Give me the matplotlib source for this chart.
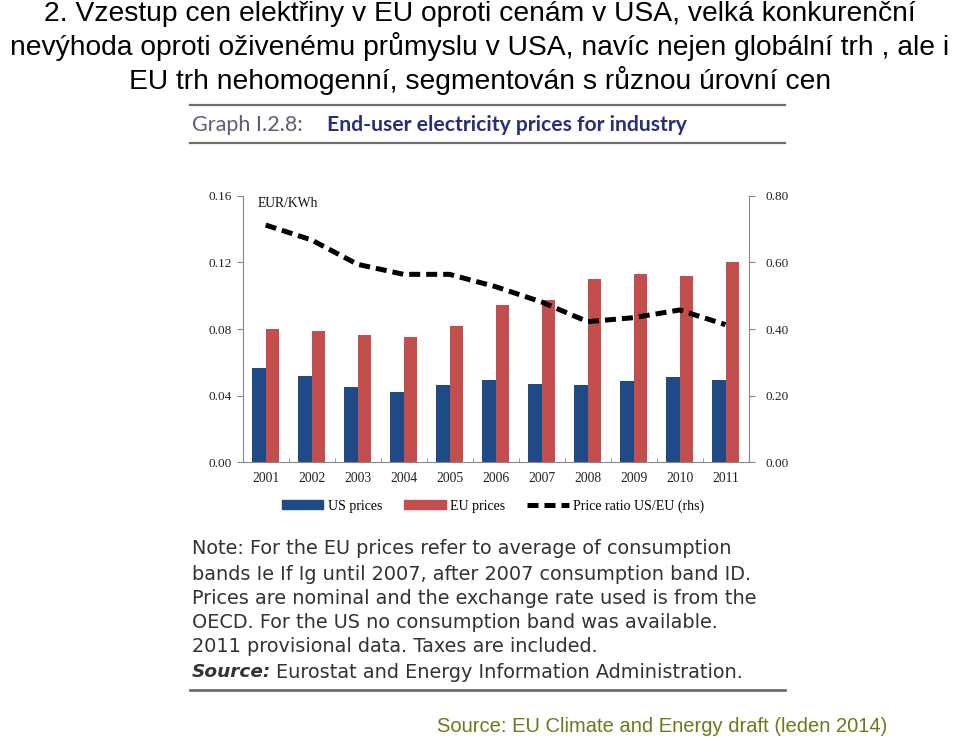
import matplotlib
matplotlib.use("Agg")
import matplotlib.pyplot as plt
import numpy as np
from matplotlib.lines import Line2D
from matplotlib.patches import Patch

years = ["2001", "2002", "2003", "2004", "2005", "2006", "2007", "2008", "2009", "2010", "2011"]
us_prices = [0.0568, 0.0518, 0.0454, 0.0424, 0.0462, 0.0492, 0.0470, 0.0462, 0.0490, 0.0514, 0.0494]
eu_prices = [0.0800, 0.0790, 0.0762, 0.0750, 0.0820, 0.0942, 0.0974, 0.1100, 0.1130, 0.1120, 0.1202]
ratio = [0.712, 0.667, 0.594, 0.564, 0.564, 0.527, 0.481, 0.422, 0.434, 0.457, 0.413]
left_ticks = [0.00, 0.04, 0.08, 0.12, 0.16]
right_ticks = [0.00, 0.20, 0.40, 0.60, 0.80]

title_lines = [
    "2. Vzestup cen elektřiny v EU oproti cenám v USA, velká konkurenční",
    "nevýhoda oproti oživenému průmyslu v USA, navíc nejen globální trh , ale i",
    "EU trh nehomogenní, segmentován s různou úrovní cen",
]
note_lines = [
    "Note: For the EU prices refer to average of consumption",
    "bands Ie If Ig until 2007, after 2007 consumption band ID.",
    "Prices are nominal and the exchange rate used is from the",
    "OECD. For the US no consumption band was available.",
    "2011 provisional data. Taxes are included.",
]

US_COL = "#1f4a86"
EU_COL = "#c44e4e"
SERIF = "Liberation Serif"
DASH = (0, (2.2, 1.2))

fig = plt.figure(figsize=(9.6, 7.38), dpi=100)
W, H = 960, 738

def fy(py):
    return 1 - py / H

# Title
title_base = [21, 55, 89]
for t, yy in zip(title_lines, title_base):
    fig.text(0.5, fy(yy), t, ha="center", va="baseline", fontsize=20.3,
             family="Liberation Sans", color="black")

# Header box lines
for yy, lw in [(105, 1.6), (143, 1.6), (690, 2.0)]:
    fig.add_artist(Line2D([190 / W, 785 / W], [fy(yy), fy(yy)], color="#6e6e6e", lw=lw))
fig.text(192 / W, fy(125), "Graph I.2.8:", ha="left", va="center", fontsize=15.5,
         family="Lato", color="#5a5f7a")
fig.text(327 / W, fy(125), "End-user electricity prices for industry", ha="left", va="center",
         fontsize=15.2, family="Lato", weight="bold", color="#2b2f7a")

# Chart
ax = fig.add_axes([242.7 / W, 1 - 462.3 / H, (748.5 - 242.7) / W, (462.3 - 195.7) / H])
x = np.arange(len(years))
bw = 0.29
ax.bar(x - bw / 2, us_prices, bw, color=US_COL, label="US prices")
ax.bar(x + bw / 2, eu_prices, bw, color=EU_COL, label="EU prices")
ax.set_xlim(-0.5, len(years) - 0.5)
ax.set_ylim(0, 0.16)
ax.set_yticks(left_ticks)
ax.set_yticklabels([f"{v:.2f}" for v in left_ticks], family=SERIF, fontsize=9.5, color="#222222")
ax.set_xticks(x)
ax.set_xticklabels(years, family=SERIF, fontsize=9.8, color="#222222")
ax.tick_params(axis="x", length=0, pad=7)
ax.set_xticks(np.arange(-0.5, len(years) + 0.5, 1.0), minor=True)
ax.tick_params(axis="x", which="minor", direction="in", length=3, color="#888888")
ax.tick_params(axis="y", length=4, color="#888888", pad=4)
for s in ["top", "right"]:
    ax.spines[s].set_visible(False)
for s in ["left", "bottom"]:
    ax.spines[s].set_color("#888888")
    ax.spines[s].set_linewidth(0.8)
ax.text(0.03, 0.995, "EUR/KWh", transform=ax.transAxes, ha="left", va="top",
        family=SERIF, fontsize=9.8, color="#111111")

ax2 = ax.twinx()
ax2.plot(x, ratio, color="black", lw=3.6, linestyle=DASH, label="Price ratio US/EU (rhs)")
ax2.set_ylim(0, 0.80)
ax2.set_yticks(right_ticks)
ax2.set_yticklabels([f"{v:.2f}" for v in right_ticks], family=SERIF, fontsize=9.5, color="#222222")
ax2.tick_params(axis="y", length=4, color="#888888", pad=8)
for s in ["top", "left", "bottom"]:
    ax2.spines[s].set_visible(False)
ax2.spines["right"].set_color("#888888")
ax2.spines["right"].set_linewidth(0.8)

handles = [Patch(color=US_COL), Patch(color=EU_COL),
           Line2D([], [], color="black", lw=3.6, linestyle=DASH)]
labels = ["US prices", "EU prices", "Price ratio US/EU (rhs)"]
fig.legend(handles, labels, loc="center", bbox_to_anchor=(493 / W, fy(506)), ncol=3,
           frameon=False, prop={"family": SERIF, "size": 10}, handlelength=3.0,
           handleheight=0.6, columnspacing=1.6, handletextpad=0.3)

# Note
NOTE_FS = 13.9
note_y = [549, 574, 598, 622, 647]
for t, yy in zip(note_lines, note_y):
    fig.text(192 / W, fy(yy), t, ha="left", va="center", fontsize=NOTE_FS, family="DejaVu Sans",
             color="#333333")
src = fig.text(192 / W, fy(672), "Source:", ha="left", va="center", fontsize=NOTE_FS - 0.6,
               family="DejaVu Sans", weight="bold", style="italic", color="#333333")
fig.canvas.draw()
src_end = src.get_window_extent(fig.canvas.get_renderer()).x1
fig.text(max(270, src_end + 5) / W, fy(672), "Eurostat and Energy Information Administration.",
         ha="left", va="center", fontsize=NOTE_FS, family="DejaVu Sans", color="#333333")

fig.text(437 / W, fy(726), "Source: EU Climate and Energy draft (leden 2014)", ha="left", va="center",
         fontsize=14.5, family="Liberation Sans", color="#6b7a1a")

fig.savefig("out.png", dpi=100)
